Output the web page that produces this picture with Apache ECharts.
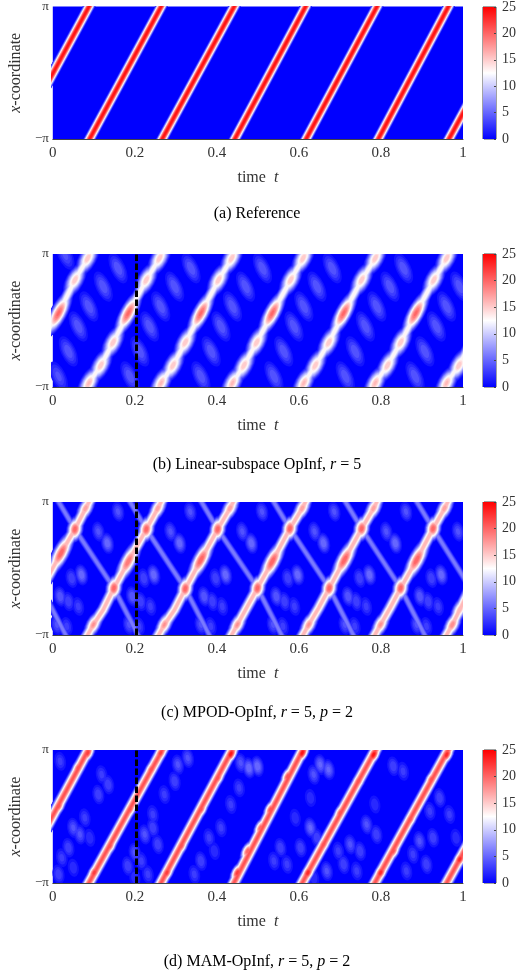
<!DOCTYPE html>
<html>
<head>
<meta charset="utf-8">
<style>html,body{margin:0;padding:0;background:#fff}#c{width:519px;height:979px}</style>
<script src="https://cdn.jsdelivr.net/npm/echarts@6/dist/echarts.min.js"></script>
</head>
<body>
<div id="c"></div>
<script>
// x values are stored in units of pi: [t, x/pi]; bumps are [t, x/pi, peak]
const xTicks = ['0','0.2','0.4','0.6','0.8','1'];
const colorbarMax = 25;
const markerTime = 0.204;

const bandsA = [
 [[-.095,-1.1],[.097,1.1]],[[.081,-1.1],[.273,1.1]],[[.258,-1.1],[.451,1.1]],
 [[.435,-1.1],[.625,1.1]],[[.609,-1.1],[.799,1.1]],[[.785,-1.1],[.973,1.1]],[[.957,-1.1],[1.15,1.1]]
];

const bandsB = [
 [[-.03,-.33],[.014,.11],[.054,.61],[.085,.935],[.095,1.1]],
 [[.080,-1.1],[.088,-.94],[.117,-.675],[.147,-.33],[.184,.11],[.228,.61],[.260,.935],[.270,1.1]],
 [[.256,-1.1],[.264,-.94],[.293,-.675],[.323,-.33],[.361,.11],[.404,.61],[.436,.935],[.446,1.1]],
 [[.430,-1.1],[.438,-.94],[.466,-.675],[.497,-.33],[.535,.11],[.580,.61],[.610,.935],[.620,1.1]],
 [[.604,-1.1],[.612,-.94],[.640,-.675],[.673,-.33],[.709,.11],[.753,.61],[.786,.935],[.796,1.1]],
 [[.778,-1.1],[.786,-.94],[.816,-.675],[.848,-.33],[.885,.11],[.929,.61],[.960,.935],[.970,1.1]],
 [[.952,-1.1],[.960,-.94],[.990,-.675],[1.02,-.33]]
];
const paleB = [
 [.054,.61,16],[.085,.935,16],
 [.088,-.94,16.5],[.117,-.675,16],[.147,-.33,16],[.228,.61,16],[.260,.935,16],
 [.264,-.94,16.5],[.293,-.675,16],[.323,-.33,16],[.404,.61,16],[.436,.935,16],
 [.438,-.94,16.5],[.466,-.675,16],[.497,-.33,16],[.580,.61,16],[.610,.935,16],
 [.612,-.94,16.5],[.640,-.675,16],[.673,-.33,16],[.753,.61,16],[.786,.935,16],
 [.786,-.94,16.5],[.816,-.675,16],[.848,-.33,16],[.929,.61,16],[.960,.935,16],
 [.960,-.94,16.5],[.990,-.675,16]
];
const strongB = [[.014,.11,20.5],[.184,.11,20.5],[.361,.11,20.5],[.535,.11,20.5],[.709,.11,20.5],[.885,.11,20.5]];
const ghostB = [
 [.03,.985,4.5],[.159,.785,5],[.123,.51,5],[.088,.21,5],[.062,-.09,5],[.038,-.465,5],[.014,-.84,4.5],
 [.337,.785,5],[.297,.51,5],[.263,.21,5],[.236,-.09,5],[.212,-.465,5],[.188,-.84,5],
 [.511,.785,5],[.470,.51,5],[.438,.21,5],[.410,-.09,5],[.386,-.465,5],[.361,-.84,5],
 [.681,.785,5],[.644,.51,5],[.612,.21,5],[.588,-.09,5],[.563,-.465,5],[.539,-.84,5],
 [.855,.785,5],[.822,.51,5],[.790,.21,5],[.762,-.09,5],[.737,-.465,5],[.713,-.84,5],
 [.992,.51,5],[.960,.21,5],[.935,-.09,5],[.907,-.465,5],[.883,-.84,5]
];

const bandsC = [
 [[-.03,-.33],[.020,.23],[.054,.59],[.080,.905],[.097,1.1]],
 [[.076,-1.1],[.099,-.845],[.123,-.62],[.149,-.295],[.184,.105],[.228,.59],[.256,.905],[.272,1.1]],
 [[.249,-1.1],[.272,-.845],[.297,-.62],[.323,-.305],[.361,.13],[.402,.59],[.432,.905],[.448,1.1]],
 [[.427,-1.1],[.450,-.845],[.470,-.62],[.499,-.295],[.535,.105],[.578,.6],[.608,.905],[.624,1.1]],
 [[.601,-1.1],[.624,-.845],[.648,-.595],[.674,-.295],[.711,.13],[.753,.6],[.782,.905],[.798,1.1]],
 [[.776,-1.1],[.799,-.845],[.822,-.595],[.848,-.295],[.887,.13],[.927,.6],[.955,.905],[.971,1.1]],
 [[.951,-1.1],[.974,-.845],[.992,-.62],[1.018,-.295]]
];
const creasesC = [
 [[-.028,-.295],[.040,-1.1]],
 [[.005,1.1],[.054,.59],[.149,-.295],[.216,-1.1]],
 [[.179,1.1],[.228,.59],[.323,-.305],[.390,-1.1]],
 [[.353,1.1],[.402,.59],[.499,-.295],[.566,-1.1]],
 [[.529,1.1],[.578,.6],[.674,-.295],[.741,-1.1]],
 [[.704,1.1],[.753,.6],[.848,-.295],[.915,-1.1]],
 [[.878,1.1],[.927,.6],[1.018,-.295]]
];
const nodesC = [
 [.054,.59,21],[.149,-.295,21],[.228,.59,21],[.323,-.305,21],[.402,.59,21],[.499,-.295,21],
 [.578,.6,21],[.674,-.295,21],[.753,.6,21],[.848,-.295,21],[.927,.6,21]
];
const ridgesC = [[.020,.23,21],[.184,.105,20],[.361,.13,21],[.535,.105,21],[.711,.13,21],[.887,.13,21]];
const beadsC = [
 [.080,.905,18],[.099,-.845,18.5],[.256,.905,18],[.272,-.845,18.5],[.432,.905,18],[.450,-.845,18.5],
 [.608,.905,18],[.624,-.845,18.5],[.782,.905,18],[.799,-.845,18.5],[.955,.905,18],[.974,-.845,19],[.992,-.62,17]
];
const ghostC = [
 [.133,.38,6],[.111,.555,4.5],[.070,-.095,6],[.046,-.145,4],[.018,-.42,5],[.038,-.495,4],[.062,-.57,3.5],[.010,-.845,4.5],[.159,.855,4.5],[.034,-.87,3.5],
 [.309,.38,6],[.287,.555,4.5],[.246,-.095,6],[.222,-.145,4],[.194,-.42,5],[.214,-.495,4],[.238,-.57,3.5],[.186,-.845,4.5],[.335,.855,4.5],[.210,-.87,3.5],
 [.484,.38,6],[.462,.555,4.5],[.421,-.095,6],[.397,-.145,4],[.369,-.42,5],[.389,-.495,4],[.413,-.57,3.5],[.361,-.845,4.5],[.510,.855,4.5],[.385,-.87,3.5],
 [.660,.38,6],[.638,.555,4.5],[.597,-.095,6],[.573,-.145,4],[.545,-.42,5],[.565,-.495,4],[.589,-.57,3.5],[.537,-.845,4.5],[.686,.855,4.5],[.561,-.87,3.5],
 [.835,.38,6],[.813,.555,4.5],[.772,-.095,6],[.748,-.145,4],[.720,-.42,5],[.740,-.495,4],[.764,-.57,3.5],[.712,-.845,4.5],[.861,.855,4.5],[.736,-.87,3.5],
 [.988,.555,4.5],[.947,-.095,6],[.923,-.145,4],[.895,-.42,5],[.915,-.495,4],[.939,-.57,3.5],[.887,-.845,4.5],[.911,-.87,3.5]
];

const bandsD = [
 [[-.03,-.33],[.0865,1],[.095,1.1]],
 [[.079,-1.1],[.276,1.1]],[[.255,-1.1],[.446,1.1]],[[.433,-1.1],[.618,1.1]],
 [[.599,-1.1],[.796,1.1]],[[.776,-1.1],[.973,1.1]],[[.951,-1.1],[1.148,1.1]]
];
const beadsD = [
 [.014,.155,22],[.062,.73,22],[.085,.955,23],
 [.101,-.845,23],[.139,-.445,22],[.188,.105,22],[.240,.705,22],[.263,.955,23],
 [.278,-.845,23],[.313,-.445,22],[.361,.105,22],[.402,.58,22],[.434,.94,25],
 [.450,-.845,23],[.475,-.52,21],[.507,-.17,21],[.531,.105,22],[.573,.605,22],[.608,.955,25],
 [.622,-.845,24],[.660,-.42,22],[.701,.055,22],[.745,.53,22],[.782,.93,25],
 [.799,-.845,24],[.830,-.52,22],[.871,-.045,22],[.923,.555,22],[.960,.93,24],
 [.992,-.645,24]
];
const ghostD = [
 [.018,.83,3.5],[.119,.63,3.5],[.135,.48,4],[.111,.33,4],[.078,-.02,3.5],[.050,-.17,4.5],[.066,-.27,4.5],[.038,-.47,4],[.022,-.62,3.5],[.014,-.87,4],[.050,-.77,3],[.090,-.32,3],
 [.305,.78,4.5],[.329,.88,4.5],[.297,.53,4],[.272,.33,3.5],[.244,.03,3.5],[.224,-.27,4.5],[.244,-.17,4],[.200,-.545,4.5],[.183,-.745,4],[.216,-.67,3.5],[.256,-.42,4],[.232,-.87,3.5],[.200,-.92,3],
 [.478,.73,6],[.499,.755,6],[.458,.805,4.5],[.454,.43,3.5],[.434,.18,3.5],[.410,-.17,3.5],[.381,-.32,3.5],[.394,-.52,3],[.361,-.67,4],[.345,-.87,3.5],
 [.652,.78,5.5],[.672,.705,5.5],[.636,.63,4.5],[.628,.28,3],[.591,-.02,3],[.628,-.17,5.5],[.644,-.32,4],[.555,-.47,4],[.604,-.47,4],[.539,-.67,3.5],[.571,-.72,3.5],[.668,-.82,4.5],[.636,-.92,3],
 [.830,.755,4],[.854,.68,3.5],[.785,.18,3],[.765,-.12,4.5],[.789,-.27,4],[.725,-.42,4.5],[.749,-.52,4],[.696,-.52,3.5],[.709,-.72,4],[.741,-.82,3.5],
 [.943,.28,4],[.919,.08,3.5],[.894,-.37,4.5],[.927,-.32,4],[.878,-.57,3.5],[.911,-.72,4],[.862,-.82,3.5],[.967,.03,3.5],[.983,-.32,3]
];

const captions = [
 '(a) Reference',
 '(b) Linear-subspace OpInf, {i|r} = 5',
 '(c) MPOD-OpInf, {i|r} = 5, {i|p} = 2',
 '(d) MAM-OpInf, {i|r} = 5, {i|p} = 2'
];

// ---------- layout & style ----------
const tops = [6,254,502,750];
const captionY = [206,457,705,954];
const panels = [
 {lines:[{d:bandsA,p:25,w:12.5}], bumps:[], marker:false},
 {lines:[{d:bandsB,p:13.6,w:14}], bumps:[
   {d:ghostB,s:[20,44],r:25},{d:paleB,s:[21,44],r:-28},{d:strongB,s:[20,60],r:-28}], marker:true},
 {lines:[{d:creasesC,p:7,w:9},{d:bandsC,p:17,w:15}], bumps:[
   {d:ghostC,s:[17,28],r:12},{d:beadsC,s:[18,36],r:-28},{d:nodesC,s:[20,32],r:-12},{d:ridgesC,s:[20,60],r:-28}], marker:true},
 {lines:[{d:bandsD,p:21.5,w:15}], bumps:[
   {d:ghostD,s:[17,28],r:10},{d:beadsD,s:[15,28],r:-28}], marker:true}
];
const FONT = 'Liberation Serif', INK = '#333';

function levelColor(v){
  const m = 12.5;
  if(v<=m){const a=Math.round(255*v/m);return `rgb(${a},${a},255)`;}
  const a=Math.round(255*(1-(v-m)/m));return `rgb(255,${a},${a})`;
}
const flatten = ls => { const o=[]; ls.forEach((l,i)=>{ if(i) o.push(['-','-']); l.forEach(p=>o.push(p)); }); return o; };
const spread = (v,p) => Math.sqrt(Math.max(0,1-Math.sqrt(v/p)));

const grid=[],xAxis=[],yAxis=[],series=[],title=[],masks=[];
const mask=(x,y,w,h)=>masks.push({type:'rect',shape:{x,y,width:w,height:h},style:{fill:'#fff'},z:90,silent:true});
panels.forEach((pan,i)=>{
  const g=i*2, cb=i*2+1, T=tops[i];
  mask(28,Math.max(0,T-16),456,T-Math.max(0,T-16));
  mask(28,T+133,456,16);
  mask(28,T-1,23,135);
  mask(463,T-1,19,135);
  grid.push({left:51,width:412,top:T,height:133,show:true,backgroundColor:'#0000ff',borderWidth:0});
  grid.push({left:483,width:17,top:T,height:133,show:true,backgroundColor:'#0000ff',borderColor:'#444',borderWidth:1});
  xAxis.push({gridIndex:g,type:'value',min:0,max:1,interval:.2,z:100,
    name:'time  {i|t}',nameLocation:'middle',nameGap:31,
    nameTextStyle:{fontFamily:FONT,fontSize:16,color:INK,rich:{i:{fontFamily:FONT,fontStyle:'italic',fontSize:16,color:INK}}},
    axisLine:{show:true,onZero:false,lineStyle:{color:'#444',width:1}},axisTick:{show:false},splitLine:{show:false},
    axisLabel:{margin:7,fontFamily:FONT,fontSize:15,color:INK,formatter:(v)=>xTicks[Math.round(v*5)]}});
  xAxis.push({gridIndex:cb,type:'category',data:[''],show:false});
  yAxis.push({gridIndex:g,type:'value',min:-1,max:1,interval:1,z:100,
    name:'{i|x}-coordinate',nameLocation:'middle',nameGap:22,nameRotate:90,
    nameTextStyle:{fontFamily:FONT,fontSize:16,color:INK,rich:{i:{fontFamily:FONT,fontStyle:'italic',fontSize:16,color:INK}}},
    axisLine:{show:false},axisTick:{show:false},splitLine:{show:false},
    axisLabel:{margin:4,fontFamily:FONT,fontSize:13,color:INK,formatter:(v)=>v===1?'π':(v===-1?'−π':'')}});
  yAxis.push({gridIndex:cb,type:'value',min:0,max:colorbarMax,interval:5,position:'right',z:100,
    axisLine:{show:false},axisTick:{show:true,inside:true,length:2,lineStyle:{color:'#444'}},splitLine:{show:false},
    axisLabel:{margin:6,fontFamily:FONT,fontSize:14,color:INK}});
  title.push({text:captions[i],left:257,textAlign:'center',top:captionY[i],padding:0,z:101,
    textStyle:{fontFamily:FONT,fontSize:16,fontWeight:'normal',color:'#000',
      rich:{i:{fontFamily:FONT,fontStyle:'italic',fontSize:16,color:'#000'}}}});
  // colour bar
  series.push({type:'bar',xAxisIndex:cb,yAxisIndex:cb,data:[colorbarMax],barWidth:'100%',silent:true,
    itemStyle:{color:{type:'linear',x:0,y:0,x2:0,y2:1,colorStops:[
      {offset:0,color:'#ff0000'},{offset:.5,color:'#ffffff'},{offset:1,color:'#0000ff'}]}}});
  // contour stacks
  for(let L=1;L<=24;L++){
    const col=levelColor(L);
    pan.lines.forEach(c=>{
      if(L>=c.p) return;
      series.push({type:'line',xAxisIndex:g,yAxisIndex:g,data:flatten(c.d),symbol:'none',silent:true,z:2+L,clip:true,
        lineStyle:{color:col,width:c.w*spread(L,c.p),cap:'butt',join:'round'}});
    });
    const items=[];
    pan.bumps.forEach(b=>b.d.forEach(q=>{
      if(L>=q[2]) return;
      const f=spread(L,q[2]);
      items.push({value:[q[0],q[1]],symbolSize:[b.s[0]*f,b.s[1]*f],symbolRotate:b.r});
    }));
    if(items.length) series.push({type:'scatter',xAxisIndex:g,yAxisIndex:g,data:items,symbol:'circle',silent:true,z:2+L,clip:true,
      itemStyle:{color:col,opacity:1}});
  }
  if(pan.marker) series.push({type:'line',xAxisIndex:g,yAxisIndex:g,data:[[markerTime,-1],[markerTime,1]],symbol:'none',silent:true,z:60,
    lineStyle:{color:'#000',width:3,type:[6.5,2.5]}});
});

const chart=echarts.init(document.getElementById('c'),null,{renderer:'canvas'});
chart.setOption({animation:false,backgroundColor:'#fff',grid,xAxis,yAxis,series,title,graphic:{elements:masks},tooltip:{show:false},legend:{show:false}});
</script>
</body>
</html>
